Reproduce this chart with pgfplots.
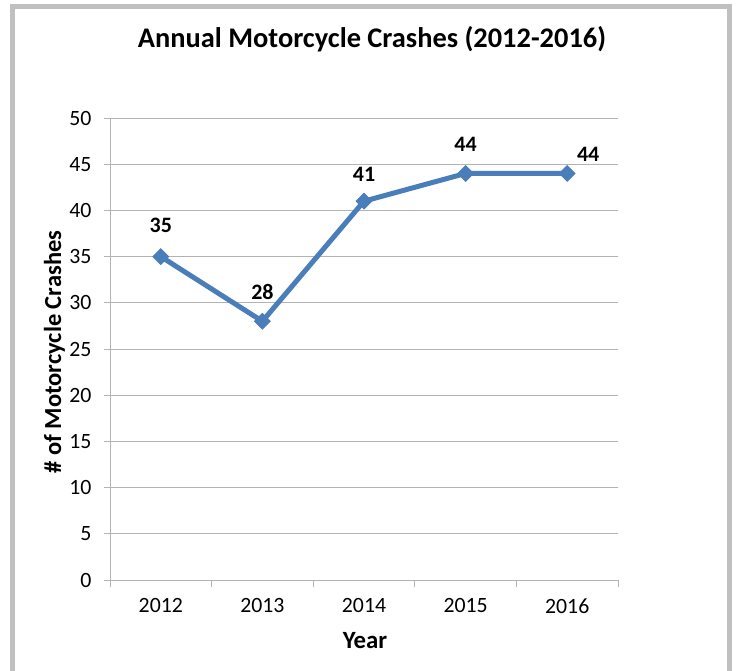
\documentclass[border=0pt]{standalone}
\usepackage{fontspec}
\setmainfont{Carlito}
\usepackage{pgfplots}
\pgfplotsset{compat=1.18}
\definecolor{linec}{HTML}{4A7EBB}
\definecolor{gridc}{HTML}{B3B3B3}
\definecolor{framec}{HTML}{C0C0C0}
\pgfplotstableread{
x y dx dy
0 35 0 31
1 28 0 29
2 41 0 27
3 44 0 29
4 44 21 19
}\crashdata
\begin{document}
\begin{tikzpicture}[x=1pt,y=1pt]
\path[use as bounding box] (0,0) rectangle (736,-671);
\fill[white] (0,0) rectangle (736,-671);
\draw[framec, line width=5.5pt] (12.5,-671) -- (12.5,-6.5) -- (729.5,-6.5) -- (729.5,-671);
\begin{axis}[
  at={(110pt,-580pt)}, anchor=south west,
  scale only axis, width=508pt, height=462pt,
  xmin=-0.5, xmax=4.5, ymin=0, ymax=50,
  xtick={0,1,2,3,4},
  xticklabels={2012,2013,2014,2015,2016},
  minor xtick={-0.5,0.5,1.5,2.5,3.5,4.5},
  ytick={0,5,...,50},
  axis x line=bottom, axis y line=left,
  axis line style={-, draw=gridc, line width=1pt},
  tick align=outside,
  major x tick style={draw=none},
  minor x tick style={draw=gridc, line width=1pt},
  major y tick style={draw=gridc, line width=1pt},
  major tick length=6pt, minor tick length=7pt,
  ymajorgrids, major grid style={draw=gridc, line width=1pt},
  /pgf/number format/assume math mode=true,
  ticklabel style={font=\fontsize{21.8}{26}\selectfont, text=black},
  yticklabel style={anchor=east, xshift=-9pt},
  xticklabel style={anchor=north, yshift=-9pt},
  clip=false,
]
\addplot[linec, line width=5pt, mark=square*, mark size=5.5pt,
  mark options={rotate=45, fill=linec, draw=linec, line width=1pt},
  nodes near coords={\pgfmathprintnumber{\pgfplotspointmeta}},
  point meta=y,
  visualization depends on={\thisrow{dx} \as \dx},
  visualization depends on={\thisrow{dy} \as \dy},
  every node near coord/.append style={anchor=center, xshift={\dx*1pt}, yshift={\dy*1pt},
     font=\fontsize{22}{26}\selectfont\bfseries, text=black},
] table[x=x, y=y] {\crashdata};
\end{axis}
\node[anchor=base, font=\fontsize{28.4}{32}\selectfont\bfseries] at (372,-48) {Annual Motorcycle Crashes (2012-2016)};
\node[anchor=base, rotate=90, font=\fontsize{24.5}{28}\selectfont\bfseries] at (61,-352) {\# of Motorcycle Crashes};
\node[anchor=base, font=\fontsize{24.8}{28}\selectfont\bfseries] at (365,-648) {Year};
\end{tikzpicture}
\end{document}
